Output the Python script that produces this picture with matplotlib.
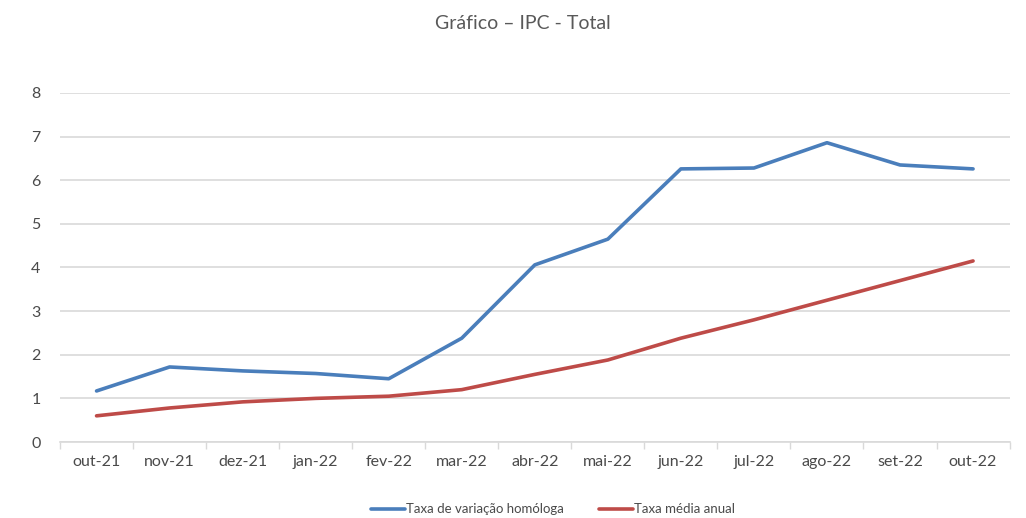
import matplotlib.pyplot as plt
import numpy as np

meses = ["out-21", "nov-21", "dez-21", "jan-22", "fev-22", "mar-22", "abr-22",
         "mai-22", "jun-22", "jul-22", "ago-22", "set-22", "out-22"]
homologa = [1.17, 1.72, 1.63, 1.57, 1.45, 2.38, 4.06, 4.65, 6.26, 6.28, 6.86, 6.35, 6.26]
media_anual = [0.60, 0.78, 0.92, 1.00, 1.05, 1.20, 1.55, 1.88, 2.38, 2.80, 3.25, 3.70, 4.15]

plt.rcParams['font.family'] = ['Lato', 'DejaVu Sans']
cinza = '#4a4a4a'

fig = plt.figure(figsize=(10.26, 5.18), dpi=100)
ax = fig.add_axes([0.0585, 0.1467, 0.9255, 0.6738])

x = np.arange(len(meses))
ax.plot(x, homologa, color='#4A7EBB', lw=2.6, label='Taxa de variação homóloga', solid_capstyle='round')
ax.plot(x, media_anual, color='#BE4B48', lw=2.6, label='Taxa média anual', solid_capstyle='round')

ax.set_xlim(-0.5, len(meses) - 0.5)
ax.set_ylim(0, 8)
ax.set_yticks(range(0, 9))
ax.set_xticks(x)
ax.set_xticklabels(meses)
ax.set_xticks(np.arange(-0.5, len(meses)), minor=True)
ax.tick_params(axis='x', which='major', length=0, pad=9, labelsize=11.5, colors=cinza)
ax.tick_params(axis='x', which='minor', length=5, color='#d9d9d9', width=1)
ax.tick_params(axis='y', length=0, pad=14, labelsize=11.5, colors=cinza)

ax.grid(axis='y', color='#d9d9d9', lw=1.2)
ax.set_axisbelow(True)
for s in ['top', 'right', 'left']:
    ax.spines[s].set_visible(False)
ax.spines['bottom'].set_color('#d9d9d9')
ax.spines['bottom'].set_linewidth(1.2)

fig.text(0.51, 0.955, 'Gráfico – IPC - Total', ha='center', va='center', fontsize=14, color='#595959')
fig.legend(loc='center', bbox_to_anchor=(0.539, 0.017), ncol=2, frameon=False,
           fontsize=9.5, handlelength=2.6, handletextpad=0.1, columnspacing=2.6, labelcolor=cinza)

fig.savefig('out.png', dpi=100)
